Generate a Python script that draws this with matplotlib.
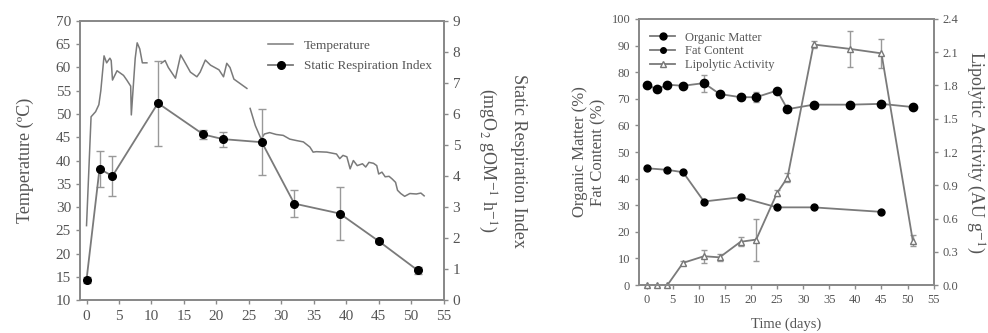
"""Recreate composting temperature/SRI and organic matter/fat/lipolytic activity panels."""

import numpy as np
import matplotlib

matplotlib.use("Agg")
import matplotlib.pyplot as plt
from matplotlib.lines import Line2D

plt.rcParams["font.family"] = ["Liberation Serif", "DejaVu Serif"]
plt.rcParams["mathtext.fontset"] = "stix"

GREY = "#8a8a8a"
LINE = "#7a7a7a"
TEXT = "#555555"

# --- left panel: temperature log (NaN = gap in record) ---
temp_days = [0.0, 0.7, 1.4, 1.9, 2.2, 2.7, 3.1, 3.6, 3.8, 4.0, 4.7, 5.7, 6.2, 6.8, 6.9,
             7.5, 7.8, 8.2, 8.6, 9.3, np.nan,
             11.5, 12.1, 12.6, 13.7, 14.5, 15.0, 16.0, 17.0, 17.5, 18.3, 19.1, 20.4,
             21.1, 21.6, 22.1, 22.7, 23.7, 24.7, np.nan,
             25.2, 26.0, 26.9, 27.4, 28.2, 29.2, 30.3, 31.3, 32.3, 33.4, 34.4, 34.9,
             35.4, 37.0, 38.5, 39.0, 39.5, 40.1, 40.6, 41.1, 41.7, 42.5, 43.0, 43.5,
             44.2, 44.7, 45.0, 45.5, 46.0, 46.6, 47.1, 47.6, 47.9, 48.4, 49.0, 49.8,
             50.8, 51.5, 52.0]
temp_vals = [26.0, 49.4, 50.5, 52.0, 55.0, 62.5, 61.0, 62.0, 61.5, 57.3, 59.3, 58.3, 57.3, 56.0, 49.8,
             62.0, 65.3, 64.0, 61.0, 61.0, np.nan,
             60.9, 61.5, 60.0, 57.7, 62.7, 61.5, 59.0, 58.0, 59.0, 61.6, 60.5, 59.5,
             58.0, 60.9, 60.0, 57.5, 56.5, 55.5, np.nan,
             51.2, 47.5, 44.6, 45.7, 46.0, 45.6, 45.4, 44.6, 44.3, 44.0, 42.9, 41.8,
             41.9, 41.8, 41.4, 40.4, 41.1, 40.8, 38.2, 40.0, 38.9, 39.3, 38.6, 39.6,
             39.4, 38.9, 37.1, 37.5, 36.5, 36.6, 36.0, 35.3, 33.6, 32.9, 32.3, 32.9,
             32.8, 33.0, 32.4]

sri_days = [0, 2, 4, 11, 18, 21, 27, 32, 39, 45, 51]
sri_vals = [0.65, 4.23, 4.00, 6.35, 5.34, 5.19, 5.09, 3.11, 2.79, 1.90, 0.96]
sri_err = [0.10, 0.58, 0.64, 1.37, 0.16, 0.24, 1.06, 0.43, 0.84, 0.06, 0.12]

# --- right panel ---
om_days = [0, 2, 4, 7, 11, 14, 18, 21, 25, 27, 32, 39, 45, 51]
om_vals = [75.3, 73.6, 75.3, 74.9, 75.9, 71.8, 70.6, 70.6, 73.1, 66.1, 67.8, 67.8, 68.1, 66.9]
om_err = [0.6, 0.6, 0.5, 0.5, 3.2, 1.0, 0.6, 1.8, 0.6, 0.5, 0.4, 0.4, 0.4, 0.4]

fat_days = [0, 4, 7, 11, 18, 25, 32, 45]
fat_vals = [43.9, 43.3, 42.4, 31.4, 33.0, 29.2, 29.2, 27.5]

lip_days = [0, 2, 4, 7, 11, 14, 18, 21, 25, 27, 32, 39, 45, 51]
lip_vals = [0.0, 0.0, 0.0, 0.20, 0.26, 0.25, 0.39, 0.41, 0.83, 0.97, 2.17, 2.13, 2.09, 0.40]
lip_err = [0.0, 0.0, 0.0, 0.02, 0.06, 0.03, 0.04, 0.19, 0.03, 0.04, 0.03, 0.16, 0.13, 0.05]


def style_axes(ax, size):
    for spine in ax.spines.values():
        spine.set_color(GREY)
        spine.set_linewidth(1.4)
    ax.tick_params(colors=GREY, labelcolor=TEXT, labelsize=size, direction="out",
                   length=3, width=1.0)


fig = plt.figure(figsize=(9.88, 3.33), dpi=100)

# left panel
ax1 = fig.add_axes([0.081, 0.099, 0.368, 0.838])
ax1b = ax1.twinx()
ax1.plot(temp_days, temp_vals, color=LINE, lw=1.1)
ax1b.errorbar(sri_days, sri_vals, yerr=sri_err, color=LINE, lw=1.3, marker="o",
              ms=5.5, mfc="black", mec="black", ecolor="#999999", elinewidth=1.0,
              capsize=3)
ax1.set_xlim(-1, 55)
ax1.set_ylim(10, 70)
ax1.set_xticks(range(0, 56, 5))
ax1.set_yticks(range(10, 71, 5))
ax1b.set_ylim(0, 9)
ax1b.set_yticks(range(0, 10))
ax1.set_ylabel("Temperature (ºC)", fontsize=13, color=TEXT, labelpad=16)
ax1b.set_ylabel("Static Respiration Index\n(mgO$_2$ gOM$^{-1}$ h$^{-1}$)", fontsize=13,
                color=TEXT, rotation=270, labelpad=48, linespacing=1.7)
style_axes(ax1, 11)
style_axes(ax1b, 11)
ax1.tick_params(axis="x", pad=4)
left_handles = [
    Line2D([], [], color=LINE, lw=1.1),
    Line2D([], [], color=LINE, lw=1.3, marker="o", ms=5.5, mfc="black", mec="black"),
]
leg = ax1b.legend(left_handles, ["Temperature", "Static Respiration Index"],
                  loc="upper right", bbox_to_anchor=(1.0, 0.975), frameon=False,
                  fontsize=9.5, handlelength=1.9, labelspacing=0.6)
for t in leg.get_texts():
    t.set_color(TEXT)

# right panel
ax2 = fig.add_axes([0.647, 0.144, 0.298, 0.799])
ax2b = ax2.twinx()
ax2.errorbar(om_days, om_vals, yerr=om_err, color=LINE, lw=1.3, marker="o", ms=6,
             mfc="black", mec="black", ecolor="#999999", elinewidth=1.0, capsize=2.5)
ax2.plot(fat_days, fat_vals, color=LINE, lw=1.3, marker="o", ms=5, mfc="black",
         mec="black")
ax2b.errorbar(lip_days, lip_vals, yerr=lip_err, color=LINE, lw=1.3, marker="^", ms=5,
              mfc="white", mec="#777777", ecolor="#999999", elinewidth=1.0, capsize=2.5,
              clip_on=False)
ax2.set_xlim(-1.4, 55)
ax2.set_ylim(0, 100)
ax2.set_xticks(range(0, 56, 5))
ax2.set_yticks(range(0, 101, 10))
ax2b.set_ylim(0, 2.4)
ax2b.set_yticks(np.arange(0, 2.41, 0.3))
ax2b.set_yticklabels([f"{v:.1f}" for v in np.arange(0, 2.41, 0.3)])
ax2.set_xlabel("Time (days)", fontsize=10.5, color=TEXT, labelpad=8)
ax2.set_ylabel("Organic Matter (%)\nFat Content (%)", fontsize=12, color=TEXT,
               labelpad=4)
ax2b.set_ylabel("Lipolytic Activity (AU g$^{-1}$)", fontsize=13, color=TEXT,
                rotation=270, labelpad=20)
style_axes(ax2, 9)
style_axes(ax2b, 9)
right_handles = [
    Line2D([], [], color=LINE, lw=1.3, marker="o", ms=5, mfc="black", mec="black"),
    Line2D([], [], color=LINE, lw=1.3, marker="o", ms=4, mfc="black", mec="black"),
    Line2D([], [], color=LINE, lw=1.3, marker="^", ms=4, mfc="white", mec="#777777"),
]
leg = ax2b.legend(right_handles, ["Organic Matter", "Fat Content", "Lipolytic Activity"],
                  loc="upper left", bbox_to_anchor=(0.0, 0.995), frameon=False,
                  fontsize=9, handlelength=2.0, labelspacing=0.15)
for t in leg.get_texts():
    t.set_color(TEXT)

fig.savefig("out.png", dpi=100)
